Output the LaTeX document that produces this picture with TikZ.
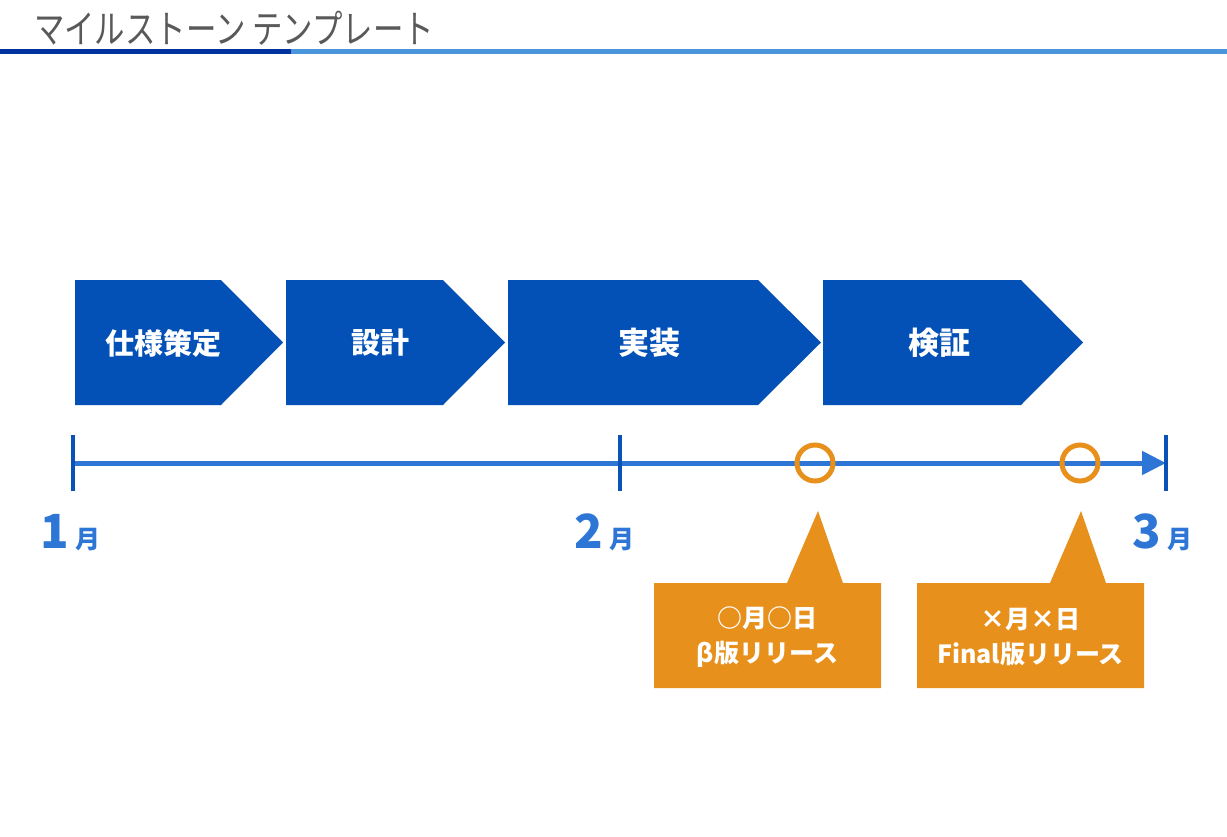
\documentclass[tikz,border=0pt]{standalone}
\usepackage{fontspec}
\setmainfont{Noto Sans CJK JP}
\usetikzlibrary{arrows.meta}
\definecolor{hdrdark}{RGB}{0,51,160}
\definecolor{hdrlight}{RGB}{74,150,220}
\definecolor{chevblue}{RGB}{3,80,182}
\definecolor{axisblue}{RGB}{46,118,214}
\definecolor{tickblue}{RGB}{10,82,184}
\definecolor{mileorange}{RGB}{232,144,28}
\definecolor{titlegray}{RGB}{89,89,89}
\begin{document}
\begin{tikzpicture}[x=1pt,y=-1pt,
  chevron/.style={fill=chevblue},
  phase/.style={text=white,font=\bfseries\fontsize{29}{34}\selectfont,inner sep=0pt},
  bigphase/.style={phase,font=\bfseries\fontsize{31}{36}\selectfont},
  tickmark/.style={draw=tickblue,line width=4pt},
  month/.style={text=axisblue,inner sep=0pt,anchor=base west},
  mile/.style={circle,draw=mileorange,line width=5pt,minimum size=36pt,inner sep=0pt},
  callout/.style={fill=mileorange},
  calltext/.style={text=white,font=\bfseries\fontsize{25}{35}\selectfont,align=center,inner sep=0pt}
]
\useasboundingbox (0,0) rectangle (1227,836);
\fill[white] (0,0) rectangle (1227,836);

% title and header rule
\node[anchor=west,text=titlegray,font=\fontsize{39}{44}\selectfont,inner sep=0pt,xscale=0.78] (title) at (34,28) {マイルストーン テンプレート};
\fill[hdrdark] (0,49) rectangle (291,54);
\fill[hdrlight] (291,49) rectangle (1227,54);

% phase chevrons
\fill[chevron] (75,280) -- (221,280) -- (283,342.5) -- (221,405) -- (75,405) -- cycle;
\fill[chevron] (286,280) -- (443,280) -- (505,342.5) -- (443,405) -- (286,405) -- cycle;
\fill[chevron] (508,280) -- (758,280) -- (821,342.5) -- (758,405) -- (508,405) -- cycle;
\fill[chevron] (823,280) -- (1021,280) -- (1083,342.5) -- (1021,405) -- (823,405) -- cycle;
\node[phase] (p1) at (163,343) {仕様策定};
\node[phase] (p2) at (380,343) {設計};
\node[bigphase] (p3) at (649,343) {実装};
\node[bigphase] (p4) at (939,343) {検証};

% timeline
\coordinate (t1) at (73,463);
\coordinate (t2) at (620,463);
\coordinate (t3) at (1166,463);
\draw[axisblue,line width=5pt,-{Triangle[length=24pt,width=23pt]}] (t1) -- (t3);
\draw[tickmark] ([yshift=-28pt]t1) -- ([yshift=28pt]t1);
\draw[tickmark] ([yshift=-28pt]t2) -- ([yshift=28pt]t2);
\draw[tickmark] ([yshift=-28pt]t3) -- ([yshift=28pt]t3);

% month labels
\node[month] (m1) at (40,548) {\bfseries\fontsize{47}{47}\selectfont 1\hspace{7pt}\fontsize{25}{25}\selectfont 月};
\node[month] (m2) at (574,548) {\bfseries\fontsize{47}{47}\selectfont 2\hspace{7pt}\fontsize{25}{25}\selectfont 月};
\node[month] (m3) at (1132,548) {\bfseries\fontsize{47}{47}\selectfont 3\hspace{7pt}\fontsize{25}{25}\selectfont 月};

% milestones
\node[mile] (ms1) at (815,463) {};
\node[mile] (ms2) at (1080,463) {};

% callouts
\fill[callout] (654,583) -- (787,583) -- (818,511) -- (843,583) -- (881,583) -- (881,688) -- (654,688) -- cycle;
\fill[callout] (917,583) -- (1050,583) -- (1081,511) -- (1106,583) -- (1144,583) -- (1144,688) -- (917,688) -- cycle;
\node[calltext] (c1) at (767.5,637.5) {○月○日\\β版リリース};
\node[calltext] (c2) at (1030.5,637.5) {×月×日\\Final版リリース};
\end{tikzpicture}
\end{document}
